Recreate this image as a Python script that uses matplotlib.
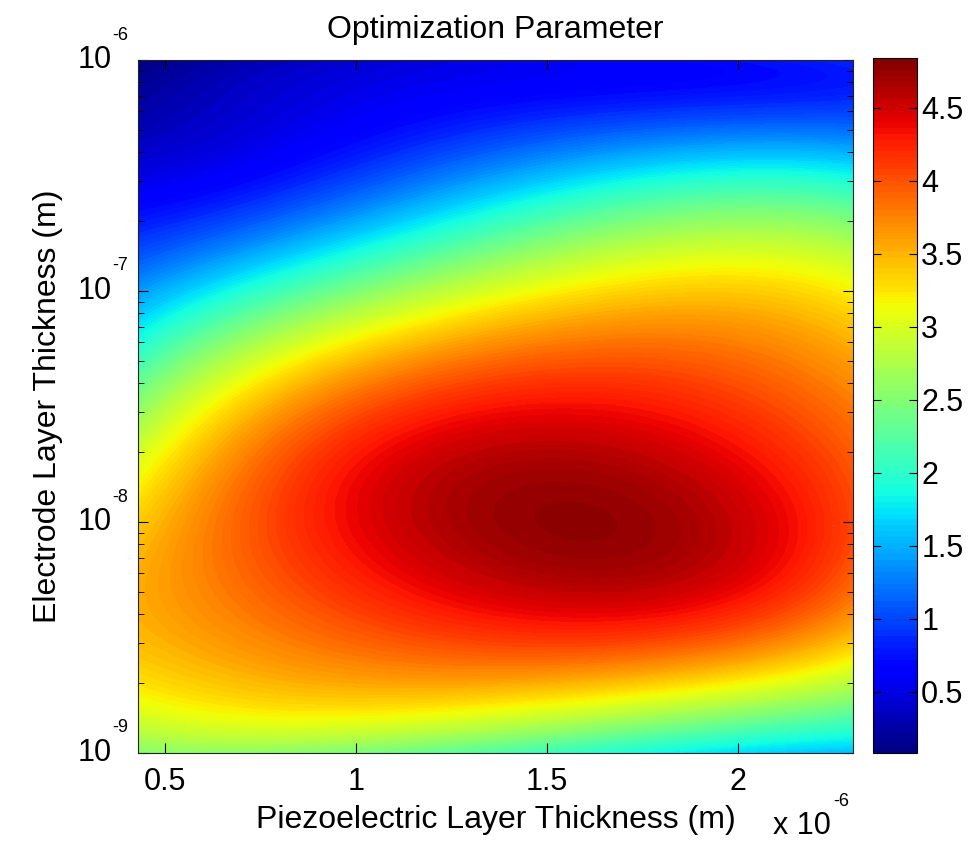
import numpy as np
import matplotlib
matplotlib.use('Agg')
import matplotlib.pyplot as plt
import matplotlib.transforms as mtransforms

plt.rcParams['font.family'] = ['Liberation Sans', 'DejaVu Sans']

# piezoelectric thickness (um) and log10 of electrode thickness (m) of the sampled grid
piezo_um = np.array([0.45, 0.8, 1.15, 1.5, 1.9, 2.3])
electrode_log10 = np.array([-6.0, -6.25, -6.5, -7.0, -7.25, -7.5, -7.75,
                            -8.0, -8.25, -8.5, -8.75, -8.9, -9.0])

# optimization parameter, one list per piezo thickness (top -> bottom)
param_045 = [0.08, 0.26, 0.55, 1.39, 2.10, 2.50, 3.15, 3.59, 3.55, 3.47, 3.25, 2.88, 2.50]
param_080 = [0.38, 0.56, 0.70, 2.10, 3.10, 3.59, 3.80, 3.90, 3.90, 3.72, 3.30, 2.85, 2.58]
param_115 = [0.45, 0.72, 0.95, 2.52, 3.53, 4.20, 4.42, 4.60, 4.48, 4.22, 3.40, 2.80, 2.40]
param_150 = [0.50, 0.91, 1.75, 3.35, 3.83, 4.48, 4.76, 4.84, 4.68, 4.25, 3.40, 2.58, 2.10]
param_190 = [0.75, 1.09, 1.63, 3.35, 3.83, 4.18, 4.38, 4.44, 4.34, 4.10, 2.90, 2.10, 1.83]
param_230 = [0.80, 1.15, 1.75, 3.23, 3.59, 3.83, 3.97, 4.05, 3.93, 3.59, 2.60, 1.87, 1.65]

cbar_ticks = [0.5, 1, 1.5, 2, 2.5, 3, 3.5, 4, 4.5]
x_ticks_um = [0.5, 1, 1.5, 2]
y_decades = [-6, -7, -8, -9]

Z = np.array([param_045, param_080, param_115, param_150, param_190, param_230]).T
zmin, zmax = Z.min(), Z.max()

# smooth surface: least-squares polynomial in (x, log10 y)
NX, NU = 4, 7
def basis(xu, lu):
    xn = (xu - 1.4) / 0.95
    un = (lu + 7.5) / 1.5
    return np.stack([xn**i * un**j for i in range(NX) for j in range(NU)], axis=-1)

XX, UU = np.meshgrid(piezo_um, electrode_log10)
A = basis(XX, UU).reshape(-1, NX * NU)
coef, *_ = np.linalg.lstsq(A, Z.ravel(), rcond=None)

xf = np.linspace(0.43, 2.3, 300)
uf = np.linspace(-9, -6, 300)
XF, UF = np.meshgrid(xf, uf)
ZF = np.clip(basis(XF, UF) @ coef, zmin, zmax)

fig = plt.figure(figsize=(9.71, 8.43), dpi=100)
ax = fig.add_axes([138 / 971, 1 - 753 / 843, 715 / 971, 693 / 843])
cax = fig.add_axes([873 / 971, 1 - 753 / 843, 44 / 971, 695 / 843])

levels = np.linspace(zmin, zmax, 120)
cs = ax.contourf(XF * 1e-6, 10.0**UF, ZF, levels=levels, cmap='jet')
ax.set_yscale('log')
ax.set_xlim(0.43e-6, 2.3e-6)
ax.set_ylim(1e-9, 1e-6)

ax.set_xticks([v * 1e-6 for v in x_ticks_um])
ax.set_xticklabels([f'{v:g}' for v in x_ticks_um])
ax.set_yticks([10.0**d for d in y_decades])
ax.set_yticklabels([])
ax.tick_params(which='both', direction='in', top=True, right=True, labelsize=22, pad=10)
ax.tick_params(which='major', length=7)
ax.tick_params(which='minor', length=4)
for s in ax.spines.values():
    s.set_linewidth(0.8)
    s.set_color('#222222')

# MATLAB style decade labels
trans = mtransforms.blended_transform_factory(ax.transAxes, ax.transData)
for d in y_decades:
    ax.text(-0.037, 10.0**d, '10', transform=trans, ha='right', va='center', fontsize=22)
    ax.annotate(str(d), xy=(-0.036, 10.0**d), xycoords=trans, xytext=(0, 18),
                textcoords='offset points', ha='left', va='center', fontsize=13)

ax.text(0.888, -0.106, 'x 10', transform=ax.transAxes, ha='left', va='center', fontsize=22)
ax.text(0.973, -0.070, '-6', transform=ax.transAxes, ha='left', va='center', fontsize=13)

ax.set_xlabel('Piezoelectric Layer Thickness (m)', fontsize=23, labelpad=6)
ax.set_ylabel('Electrode Layer Thickness (m)', fontsize=23)
ax.yaxis.set_label_coords(-0.105, 0.5)
ax.set_title('Optimization Parameter', fontsize=23, pad=16)

cb = fig.colorbar(cs, cax=cax, ticks=cbar_ticks)
cb.ax.set_yticklabels([f'{v:g}' for v in cbar_ticks])
cb.ax.tick_params(direction='in', left=True, right=True, length=6, labelsize=22, pad=3)
cb.outline.set_linewidth(0.8)

fig.savefig('out.png', dpi=100)
